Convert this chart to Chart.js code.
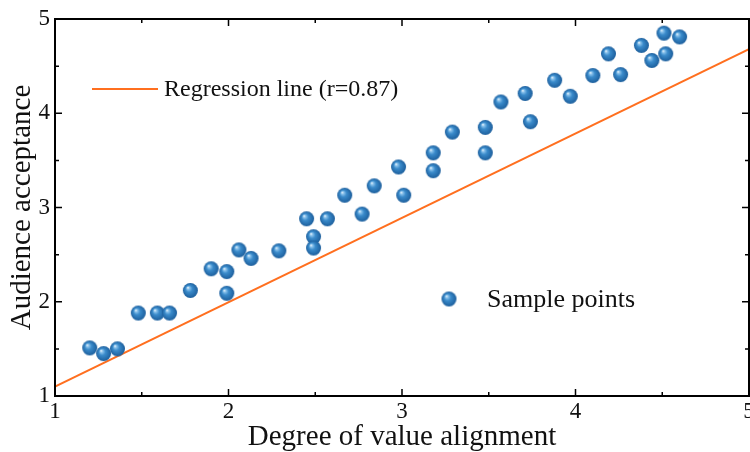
<!DOCTYPE html>
<html>
<head>
<meta charset="utf-8">
<script src="https://cdn.jsdelivr.net/npm/chart.js@4.4.1/dist/chart.umd.min.js"></script>
<style>
  html, body { margin: 0; padding: 0; background: #fff; }
  #wrap { width: 750px; height: 452px; }
</style>
</head>
<body>
<div id="wrap"><canvas id="chart"></canvas></div>
<script>
// sample points
const alignment = [1.20, 1.28, 1.36, 1.48, 1.59, 1.66, 1.78, 1.90, 1.99, 1.99,
  2.06, 2.13, 2.29, 2.49, 2.49, 2.45, 2.57, 2.67, 2.77, 2.84,
  2.98, 3.01, 3.18, 3.18, 3.29, 3.48, 3.48, 3.57, 3.71, 3.74,
  3.88, 3.97, 4.10, 4.19, 4.26, 4.38, 4.44, 4.51, 4.52, 4.60];
const acceptance = [1.51, 1.45, 1.50, 1.88, 1.88, 1.88, 2.12, 2.35, 2.32, 2.09,
  2.55, 2.46, 2.54, 2.69, 2.57, 2.88, 2.88, 3.13, 2.93, 3.23,
  3.43, 3.13, 3.39, 3.58, 3.80, 3.58, 3.85, 4.12, 4.21, 3.91,
  4.35, 4.18, 4.40, 4.63, 4.41, 4.72, 4.56, 4.85, 4.63, 4.81];
const lineX = [1, 5];
const lineY = [1.10, 4.68];
const xTicks = [1, 2, 3, 4, 5];
const yTicks = [1, 2, 3, 4, 5];

const FONT = '"Liberation Serif", "Times New Roman", serif';
const ORANGE = '#ff6f1f';

// little shaded ball used for the markers
function ball(r) {
  const c = document.createElement('canvas');
  c.width = c.height = r * 2 + 2;
  const g = c.getContext('2d');
  const cx = r + 1, cy = r + 1;
  const grad = g.createRadialGradient(cx - r * 0.35, cy - r * 0.4, 0, cx, cy, r);
  grad.addColorStop(0, '#ffffff');
  grad.addColorStop(0.18, '#8cc3ec');
  grad.addColorStop(0.45, '#3a8bcb');
  grad.addColorStop(1, '#1c5e9c');
  g.fillStyle = grad;
  g.beginPath();
  g.arc(cx, cy, r, 0, Math.PI * 2);
  g.fill();
  return c;
}
const marker = ball(7.5);

const points = alignment.map((x, i) => ({ x: x, y: acceptance[i] }));
const regLine = lineX.map((x, i) => ({ x: x, y: lineY[i] }));

const frame = {
  id: 'frame',
  afterDraw(chart) {
    const ctx = chart.ctx;
    const a = chart.chartArea;
    const xs = chart.scales.x, ys = chart.scales.y;
    ctx.save();
    ctx.strokeStyle = '#000';
    ctx.lineWidth = 2;
    ctx.strokeRect(a.left, a.top, a.right - a.left, a.bottom - a.top);
    ctx.lineWidth = 1.5;
    for (let v = 1; v <= 5.001; v += 0.5) {
      const len = Number.isInteger(v) ? 7 : 4;
      const px = xs.getPixelForValue(v);
      const py = ys.getPixelForValue(v);
      ctx.beginPath();
      ctx.moveTo(px, a.bottom); ctx.lineTo(px, a.bottom - len);
      ctx.moveTo(px, a.top); ctx.lineTo(px, a.top + len);
      ctx.moveTo(a.left, py); ctx.lineTo(a.left + len, py);
      ctx.moveTo(a.right, py); ctx.lineTo(a.right - len, py);
      ctx.stroke();
    }
    // legend entries
    ctx.strokeStyle = ORANGE;
    ctx.lineWidth = 2;
    ctx.beginPath();
    ctx.moveTo(92, 89); ctx.lineTo(158, 89);
    ctx.stroke();
    ctx.drawImage(marker, 449 - marker.width / 2, 299 - marker.height / 2);
    ctx.fillStyle = '#111';
    ctx.textBaseline = 'middle';
    ctx.font = '24px ' + FONT;
    ctx.fillText('Regression line (r=0.87)', 164, 90);
    ctx.font = '26px ' + FONT;
    ctx.fillText('Sample points', 487, 300);
    ctx.restore();
  }
};

new Chart(document.getElementById('chart'), {
  type: 'scatter',
  data: {
    datasets: [{
      label: 'Regression line (r=0.87)',
      type: 'line',
      data: regLine,
      borderColor: ORANGE,
      borderWidth: 2,
      pointRadius: 0,
      fill: false,
      order: 2
    }, {
      label: 'Sample points',
      data: points,
      pointStyle: marker,
      pointRadius: 7.5,
      order: 1
    }]
  },
  options: {
    responsive: true,
    maintainAspectRatio: false,
    animation: false,
    layout: { autoPadding: false, padding: { top: 19, right: 1, left: 0, bottom: 0 } },
    plugins: { legend: { display: false }, tooltip: { enabled: false } },
    scales: {
      x: {
        type: 'linear', min: 1, max: 5,
        afterBuildTicks: s => { s.ticks = xTicks.map(v => ({ value: v })); },
        afterFit: s => { s.height = 56; s.paddingRight = 0; s.paddingLeft = 0; },
        grid: { display: false, drawTicks: false },
        border: { display: false },
        ticks: { color: '#111', font: { family: FONT, size: 23 }, padding: 2, maxRotation: 0 },
        title: { display: true, text: 'Degree of value alignment', color: '#111',
                 font: { family: FONT, size: 29, lineHeight: 1 }, padding: { top: 0, bottom: 0 } }
      },
      y: {
        type: 'linear', min: 1, max: 5,
        afterBuildTicks: s => { s.ticks = yTicks.map(v => ({ value: v })); },
        afterFit: s => { s.width = 55; },
        grid: { display: false, drawTicks: false },
        border: { display: false },
        ticks: { color: '#111', font: { family: FONT, size: 23 }, padding: 5 },
        title: { display: true, text: 'Audience acceptance', color: '#111',
                 font: { family: FONT, size: 29, lineHeight: 1 }, padding: { top: 8, bottom: 0 } }
      }
    }
  },
  plugins: [frame]
});
</script>
</body>
</html>
